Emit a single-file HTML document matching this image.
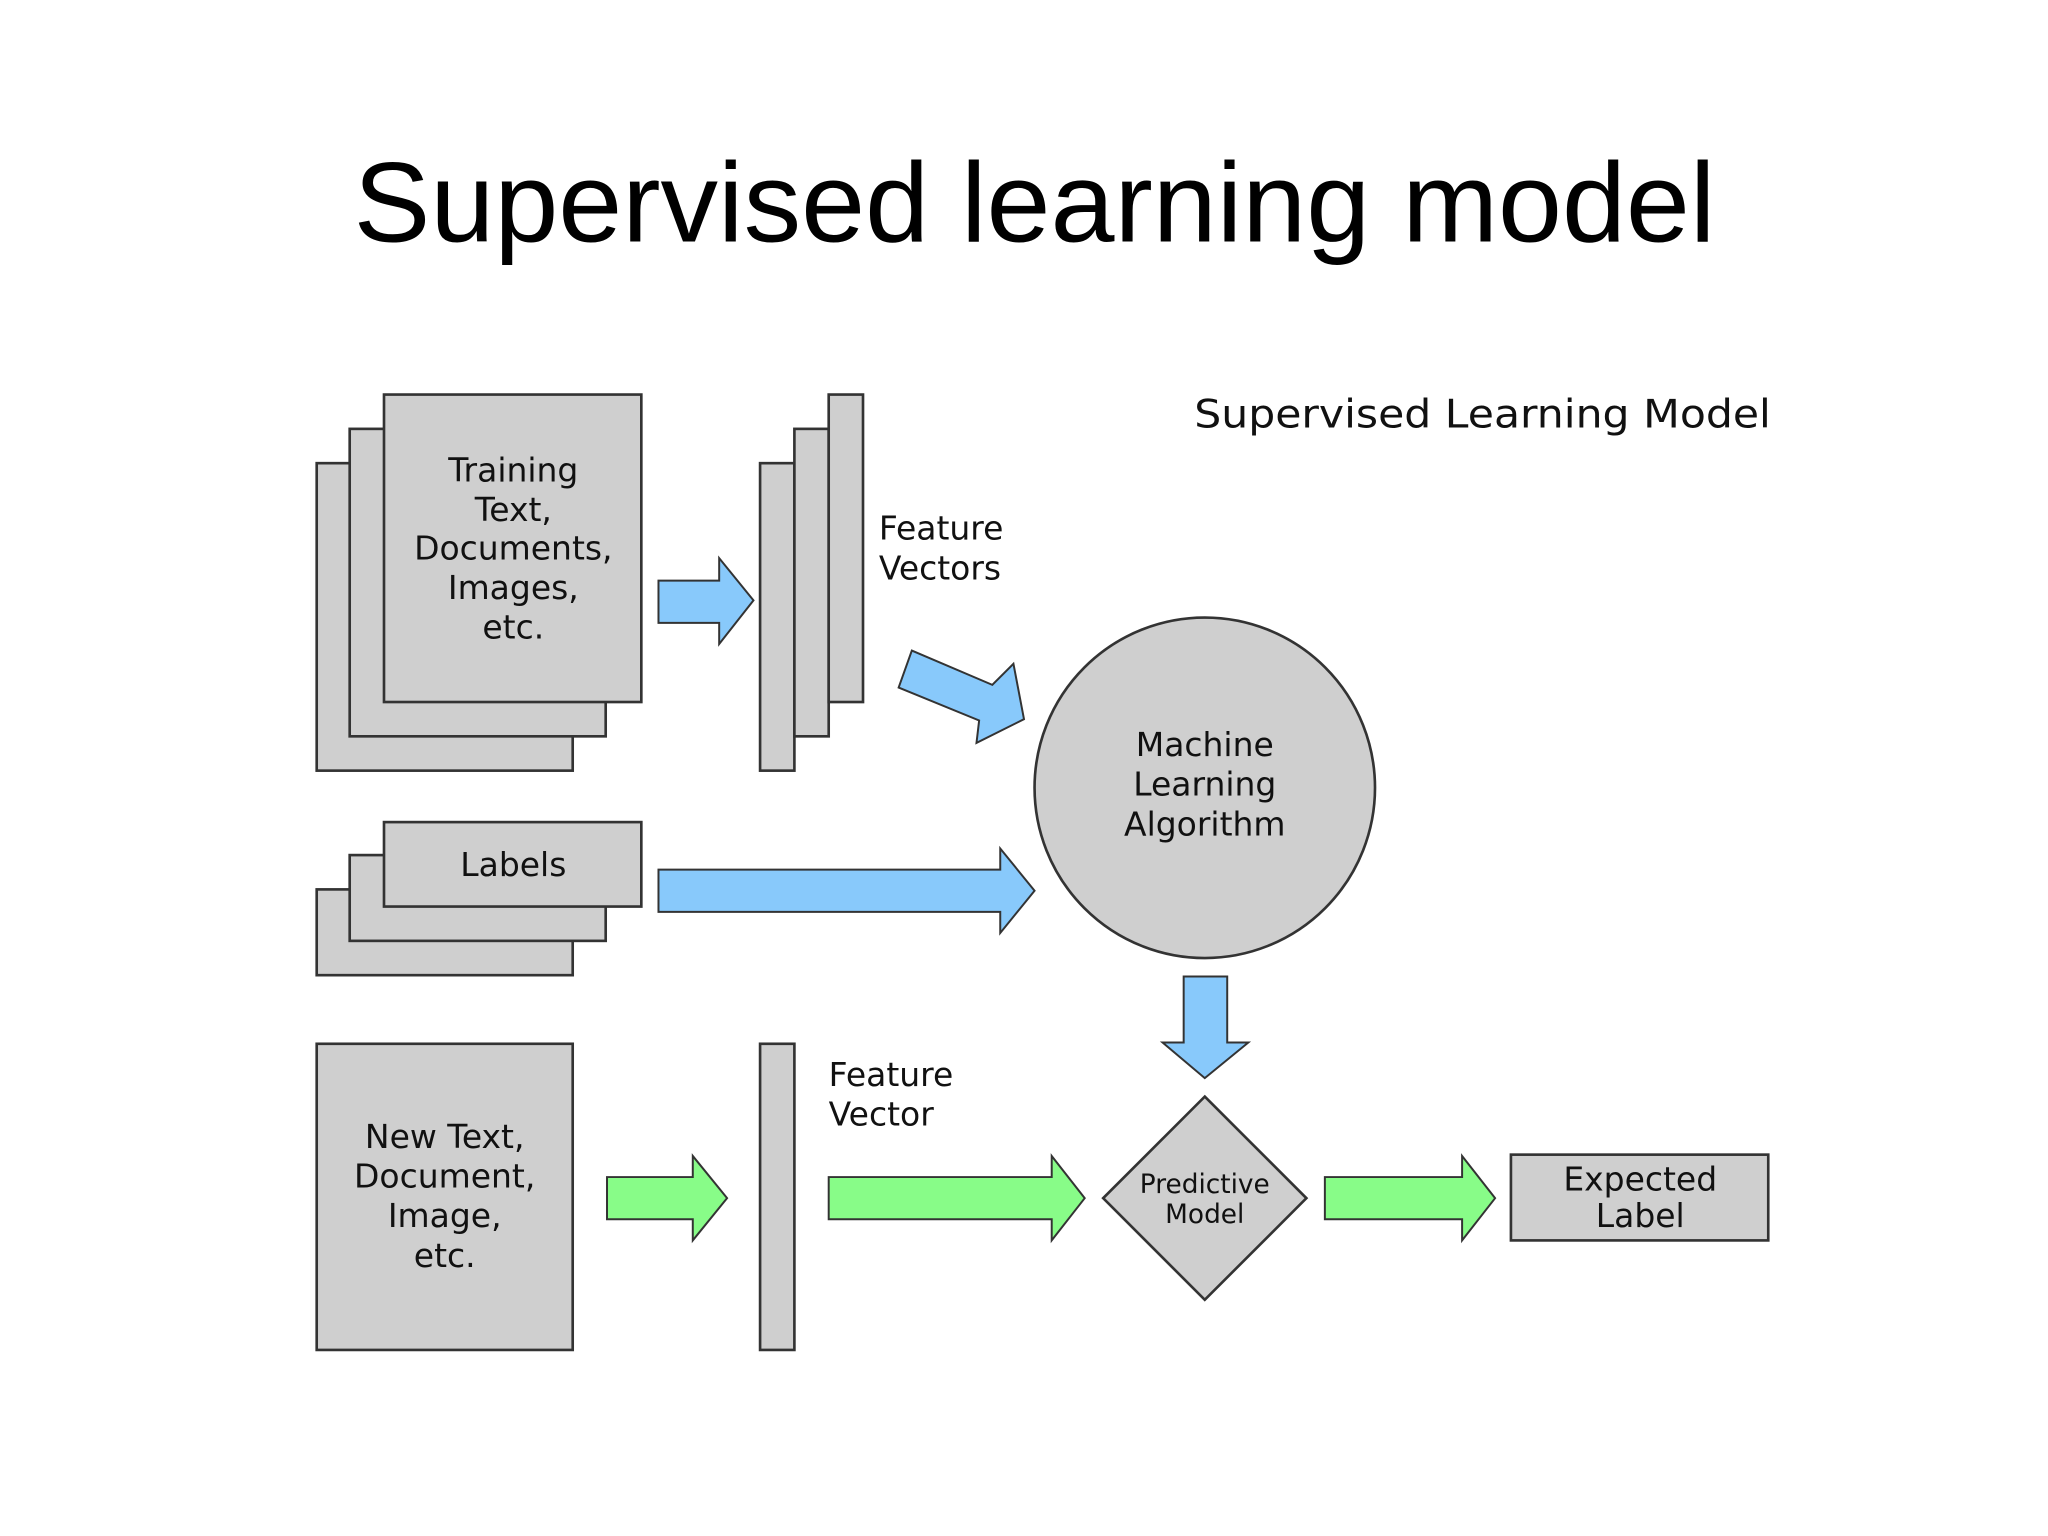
<!DOCTYPE html>
<html><head><meta charset="utf-8"><style>html,body{margin:0;padding:0;background:#fff}svg{display:block}</style></head>
<body>
<svg width="2048" height="1536" viewBox="0 0 1552 1164" xmlns="http://www.w3.org/2000/svg">
<rect width="1552" height="1164" fill="#fff"/>
<text x="784" y="183" text-anchor="middle" font-family="Liberation Sans, sans-serif" font-size="86" fill="#000" textLength="1032" lengthAdjust="spacingAndGlyphs">Supervised learning model</text>
<g stroke="#333" stroke-width="2" fill="#cfcfcf">
<rect x="240" y="351" width="194" height="233"/>
<rect x="265" y="325" width="194" height="233"/>
<rect x="291" y="299" width="195" height="233"/>
<rect x="576" y="351" width="26" height="233"/>
<rect x="602" y="325" width="26" height="233"/>
<rect x="628" y="299" width="26" height="233"/>
<circle cx="913" cy="597" r="129"/>
<rect x="240" y="674" width="194" height="65"/>
<rect x="265" y="648" width="194" height="65"/>
<rect x="291" y="623" width="195" height="64"/>
<rect x="240" y="791" width="194" height="232"/>
<rect x="576" y="791" width="26" height="232"/>
<polygon points="913,831 990,908 913,985 836,908"/>
<rect x="1145" y="875" width="195" height="65"/>
</g>
<g stroke="#333" stroke-width="1.5" fill="#88c9fb">
<polygon points="499,440 545,440 545,423 571,455 545,488 545,472 499,472"/>
<polygon points="691,493 752,519 768,503 776,545 740,563 742,546 681,521"/>
<polygon points="499,659 758,659 758,643 784,675 758,707 758,691 499,691"/>
<polygon points="897,740 930,740 930,790 946,790 913,817 881,790 897,790"/>
</g>
<g stroke="#333" stroke-width="1.5" fill="#88fc88">
<polygon points="460,892 525,892 525,876 551,908 525,940 525,924 460,924"/>
<polygon points="628,892 797,892 797,876 822,908 797,940 797,924 628,924"/>
<polygon points="1004,892 1108,892 1108,876 1133,908 1108,940 1108,924 1004,924"/>
</g>
<g font-family="DejaVu Sans, sans-serif" font-size="25" fill="#111" text-anchor="middle">
<text x="389" y="365">Training</text>
<text x="389" y="395">Text,</text>
<text x="389" y="424">Documents,</text>
<text x="389" y="454">Images,</text>
<text x="389" y="484">etc.</text>
<text x="913" y="573">Machine</text>
<text x="913" y="603">Learning</text>
<text x="913" y="633">Algorithm</text>
<text x="389" y="664">Labels</text>
<text x="337" y="870">New Text,</text>
<text x="337" y="900">Document,</text>
<text x="337" y="930">Image,</text>
<text x="337" y="960">etc.</text>
<text x="1243" y="902">Expected</text>
<text x="1243" y="930">Label</text>
<text x="913" y="904" font-size="20">Predictive</text>
<text x="913" y="927" font-size="20">Model</text>
</g>
<g font-family="DejaVu Sans, sans-serif" font-size="25" fill="#111">
<text x="666" y="409">Feature</text>
<text x="666" y="439">Vectors</text>
<text x="628" y="823">Feature</text>
<text x="628" y="853">Vector</text>
<text x="905" y="324" font-size="30" textLength="437" lengthAdjust="spacingAndGlyphs">Supervised Learning Model</text>
</g>
</svg>
</body></html>
